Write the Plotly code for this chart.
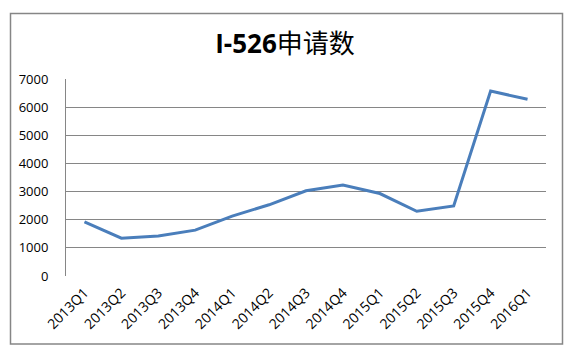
import plotly.graph_objects as go

categories = ["2013Q1", "2013Q2", "2013Q3", "2013Q4", "2014Q1", "2014Q2", "2014Q3",
              "2014Q4", "2015Q1", "2015Q2", "2015Q3", "2015Q4", "2016Q1"]
values = [1920, 1345, 1420, 1630, 2130, 2530, 3030, 3230, 2930, 2300, 2490, 6570, 6280]
y_ticks = [0, 1000, 2000, 3000, 4000, 5000, 6000, 7000]

W, H = 572, 355
L, R, T, B = 66, 546, 79, 276
pw, ph = R - L, B - T

fig = go.Figure()
fig.add_trace(go.Scatter(
    x=categories, y=values, mode="lines",
    line=dict(color="#4A7EBB", width=3),
    hoverinfo="skip", showlegend=False,
))

def px(x):
    return (x - L) / pw

def py(y):
    return (B - y) / ph

fig.update_layout(
    width=W, height=H,
    margin=dict(l=L, r=W - R, t=T, b=H - B, pad=0, autoexpand=False),
    paper_bgcolor="white", plot_bgcolor="white",
    font=dict(family="'Open Sans', 'Noto Sans CJK SC', sans-serif", color="#000000", size=12),
    title=dict(
        text="<b>I-526</b>申请数",
        x=285 / W, xanchor="center", xref="container",
        y=1 - 44 / H, yanchor="middle",
        font=dict(size=26, family="'Open Sans', 'Noto Sans CJK SC', sans-serif", color="#000000"),
    ),
    xaxis=dict(
        type="category", tickangle=-45, showgrid=False, automargin=False,
        showline=False, ticks="", tickfont=dict(size=14, family="'Open Sans', sans-serif"),
        range=[-0.5, len(categories) - 0.5], ticklabelstandoff=5,
    ),
    yaxis=dict(
        range=[0, 7000], tickvals=y_ticks, showgrid=True, gridcolor="#868686", gridwidth=1,
        showline=True, linecolor="#868686", linewidth=1, ticks="", zeroline=False, automargin=False,
        tickfont=dict(size=13, family="'Open Sans', sans-serif"), ticklabelstandoff=14,
    ),
    shapes=[
        dict(type="rect", xref="paper", yref="paper",
             x0=px(10.5), x1=px(562.5), y0=py(344), y1=py(13.5),
             line=dict(color="#868686", width=1.5), fillcolor="rgba(0,0,0,0)", layer="below"),
    ],
)

fig.write_html("out.html", config={"displayModeBar": False},
               post_script="document.body.style.margin='0';document.body.style.overflow='hidden';")
